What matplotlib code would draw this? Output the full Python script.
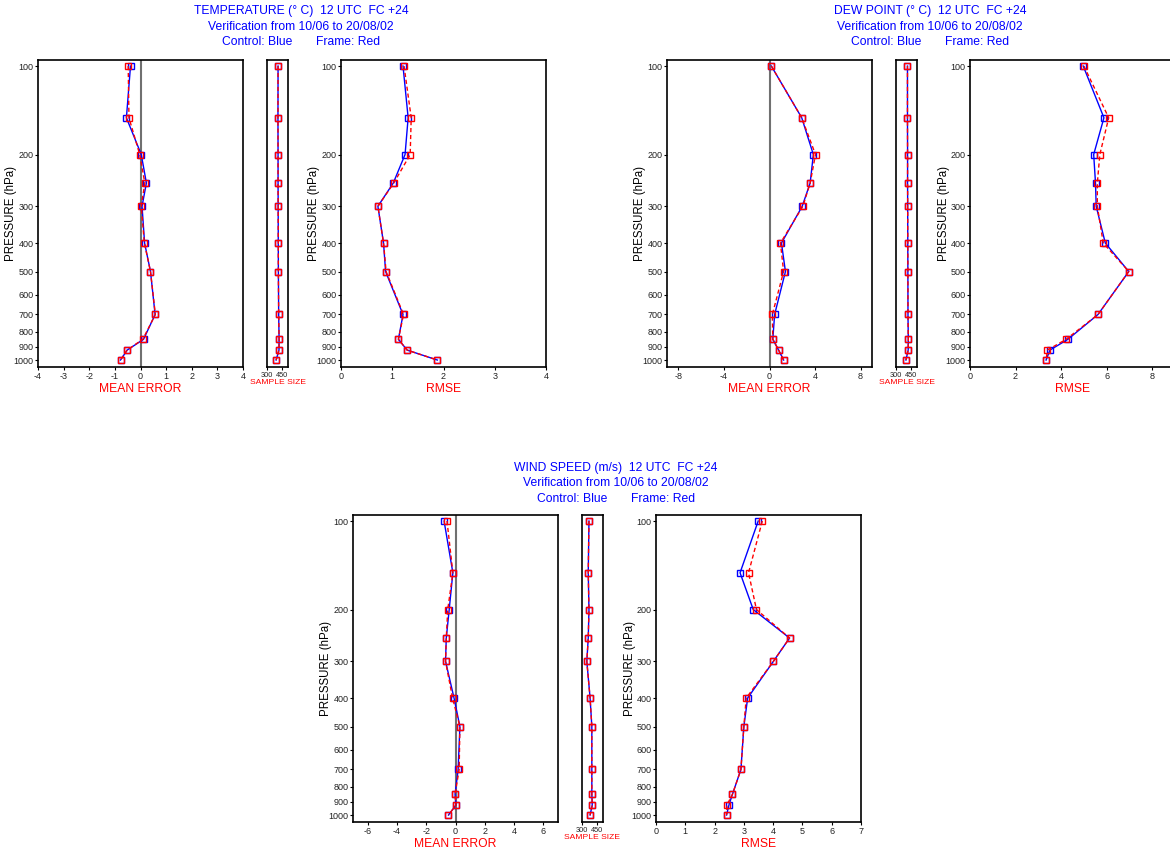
## Import Libraries

import matplotlib
matplotlib.use("Agg")
import matplotlib.pyplot as plt

## Data

levels = [100, 150, 200, 250, 300, 400, 500, 700, 850, 925, 1000]
yticks = [100, 200, 300, 400, 500, 600, 700, 800, 900, 1000]

# temperature
t_me_ctrl = [-0.39, -0.55, 0.03, 0.23, 0.06, 0.16, 0.39, 0.57, 0.12, -0.52, -0.78]
t_me_frame = [-0.48, -0.45, -0.03, 0.17, 0.03, 0.15, 0.39, 0.58, 0.09, -0.52, -0.78]
t_rmse_ctrl = [1.21, 1.31, 1.25, 1.02, 0.72, 0.83, 0.87, 1.21, 1.12, 1.29, 1.88]
t_rmse_frame = [1.23, 1.37, 1.35, 1.03, 0.72, 0.83, 0.88, 1.22, 1.12, 1.29, 1.88]
t_n_ctrl = [408, 407, 408, 408, 409, 410, 411, 414, 418, 417, 389]
t_n_frame = [408, 407, 408, 408, 409, 410, 411, 414, 418, 417, 389]

# dew point
d_me_ctrl = [0.16, 2.83, 3.85, 3.57, 2.87, 1.05, 1.40, 0.45, 0.29, 0.80, 1.24]
d_me_frame = [0.16, 2.83, 4.04, 3.57, 2.93, 0.96, 1.24, 0.25, 0.29, 0.80, 1.24]
d_rmse_ctrl = [4.97, 5.88, 5.43, 5.51, 5.54, 5.94, 6.97, 5.62, 4.30, 3.51, 3.34]
d_rmse_frame = [5.00, 6.09, 5.70, 5.59, 5.59, 5.85, 6.97, 5.62, 4.22, 3.40, 3.34]
d_n_ctrl = [412, 412, 413, 413, 414, 415, 416, 417, 420, 419, 397]
d_n_frame = [412, 412, 413, 413, 414, 415, 416, 417, 420, 419, 397]

# wind speed
w_me_ctrl = [-0.78, -0.18, -0.43, -0.63, -0.68, -0.10, 0.30, 0.18, -0.03, 0.03, -0.48]
w_me_frame = [-0.58, -0.18, -0.53, -0.63, -0.68, -0.20, 0.30, 0.25, -0.03, 0.03, -0.48]
w_rmse_ctrl = [3.49, 2.87, 3.32, 4.56, 4.01, 3.13, 3.00, 2.90, 2.61, 2.49, 2.41]
w_rmse_frame = [3.63, 3.16, 3.43, 4.56, 4.01, 3.08, 3.00, 2.90, 2.61, 2.42, 2.41]
w_n_ctrl = [368, 361, 368, 361, 347, 379, 396, 396, 396, 400, 379]
w_n_frame = [368, 361, 368, 361, 347, 379, 396, 396, 396, 400, 379]

## Figure

W, H = 1170, 850
fig = plt.figure(figsize=(W / 100, H / 100), dpi=100)
plt.rcParams["font.family"] = ["Liberation Sans", "DejaVu Sans"]
plt.rcParams["axes.unicode_minus"] = False

BLUE = "#0000ff"
RED = "#ff0000"


def box(left, top, right, bottom):
    return fig.add_axes([left / W, 1 - bottom / H, (right - left) / W, (bottom - top) / H])


def draw_profiles(ax, ctrl, frame):
    ax.plot(ctrl, levels, color=BLUE, lw=1, marker="s", ms=3.8, mfc="none", mec=BLUE, mew=1)
    ax.plot(frame, levels, color=RED, lw=1, ls=(0, (3, 2)), marker="s", ms=3.8, mfc="none", mec=RED, mew=1)


def style(ax, pressure=True):
    ax.set_yscale("log")
    ax.set_ylim(1056, 95.4)
    ax.minorticks_off()
    for s in ax.spines.values():
        s.set_linewidth(1.2)
    ax.tick_params(direction="out", length=2.5, width=0.8, labelsize=6.5, pad=0.8,
                   labelcolor="#222222")
    if pressure:
        ax.set_yticks(yticks)
        ax.set_yticklabels([str(v) for v in yticks])
        ax.set_ylabel("PRESSURE (hPa)", fontsize=8.3)
        ax.yaxis.set_label_coords(-0.10, 0.5)
    else:
        ax.set_yticks([])


def panel(left, top, title, title_y, me_ctrl, me_frame, me_lim, me_ticks,
          n_ctrl, n_frame, rmse_ctrl, rmse_frame, rmse_lim, rmse_ticks):
    bottom = top + 307
    title_x = (left + 263) / W

    fig.text(title_x, 1 - title_y / H, title, color=BLUE, fontsize=8.7, ha="center", va="center")
    fig.text(title_x, 1 - (title_y + 15.5) / H, "Verification from 10/06 to 20/08/02",
             color=BLUE, fontsize=8.7, ha="center", va="center")
    fig.text(title_x, 1 - (title_y + 31) / H, "Control: Blue       Frame: Red",
             color=BLUE, fontsize=8.7, ha="center", va="center")

    # mean error
    ax1 = box(left, top, left + 205, bottom)
    ax1.axvline(0, color="#707070", lw=1.5, zorder=1)
    draw_profiles(ax1, me_ctrl, me_frame)
    ax1.set_xlim(-me_lim, me_lim)
    ax1.set_xticks(me_ticks)
    style(ax1)
    ax1.set_xlabel("MEAN ERROR", color=RED, fontsize=8.7, labelpad=1.5)

    # sample size
    ax2 = box(left + 229, top, left + 250, bottom)
    draw_profiles(ax2, n_ctrl, n_frame)
    ax2.set_xlim(300, 505)
    ax2.set_xticks([300, 450])
    style(ax2, pressure=False)
    ax2.tick_params(axis="x", labelsize=5.3)
    ax2.set_xlabel("SAMPLE SIZE", color=RED, fontsize=6.1, labelpad=0.5)

    # rmse
    ax3 = box(left + 303, top, left + 508, bottom)
    draw_profiles(ax3, rmse_ctrl, rmse_frame)
    ax3.set_xlim(0, rmse_lim)
    ax3.set_xticks(rmse_ticks)
    style(ax3)
    ax3.set_xlabel("RMSE", color=RED, fontsize=8.7, labelpad=1.5)


panel(38, 60, "TEMPERATURE (° C)  12 UTC  FC +24", 11,
      t_me_ctrl, t_me_frame, 4, [-4, -3, -2, -1, 0, 1, 2, 3, 4],
      t_n_ctrl, t_n_frame, t_rmse_ctrl, t_rmse_frame, 4, [0, 1, 2, 3, 4])

panel(667, 60, "DEW POINT (° C)  12 UTC  FC +24", 11,
      d_me_ctrl, d_me_frame, 9, [-8, -4, 0, 4, 8],
      d_n_ctrl, d_n_frame, d_rmse_ctrl, d_rmse_frame, 9, [0, 2, 4, 6, 8])

panel(353, 515, "WIND SPEED (m/s)  12 UTC  FC +24", 468,
      w_me_ctrl, w_me_frame, 7, [-6, -4, -2, 0, 2, 4, 6],
      w_n_ctrl, w_n_frame, w_rmse_ctrl, w_rmse_frame, 7, [0, 1, 2, 3, 4, 5, 6, 7])

fig.savefig("out.png", dpi=100)
